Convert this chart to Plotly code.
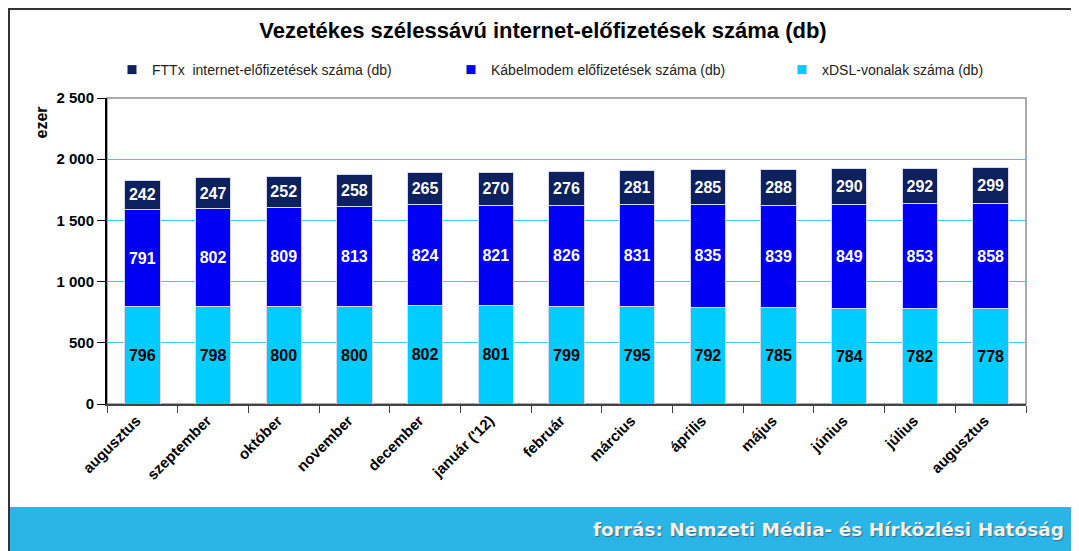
import plotly.graph_objects as go

months = ["augusztus", "szeptember", "október", "november", "december", "január ('12)",
          "február", "március", "április", "május", "június", "július", "augusztus"]
xdsl = [796, 798, 800, 800, 802, 801, 799, 795, 792, 785, 784, 782, 778]
kabel = [791, 802, 809, 813, 824, 821, 826, 831, 835, 839, 849, 853, 858]
fttx = [242, 247, 252, 258, 265, 270, 276, 281, 285, 288, 290, 292, 299]
y_ticks = [0, 500, 1000, 1500, 2000, 2500]

OFF = 8  # default page body margin
PW, PH = 1079, 551           # page size
W, H = PW - OFF, PH - OFF    # figure size
L, R, T, B = 107 - OFF, 1026 - OFF, 98 - OFF, 404 - OFF  # plot area in figure px


def px_x(x):  # page px -> paper
    return (x - OFF - L) / (R - L)


def px_y(y):
    return (B - (y - OFF)) / (B - T)


xs = list(range(len(months)))
FONT = "Liberation Sans, Arial, sans-serif"

fig = go.Figure()
series = [
    ("xDSL-vonalak száma (db)", xdsl, "#00ccff", "black", "legend3"),
    ("Kábelmodem előfizetések száma (db)", kabel, "#0000f5", "white", "legend2"),
    ("FTTx  internet-előfizetések száma (db)", fttx, "#0c215e", "white", "legend"),
]
for name, vals, color, tcolor, leg in series:
    fig.add_trace(go.Bar(
        x=xs, y=vals, name=name, width=0.5, showlegend=False,
        marker=dict(color=color, line=dict(color="#d8d8f0", width=1)),
        text=vals, texttemplate="%{text}", textposition="inside",
        insidetextanchor="middle", textangle=0,
        textfont=dict(family=FONT, size=16, color=tcolor, weight="bold"),
        hoverinfo="skip",
    ))
    fig.add_trace(go.Scatter(
        x=[None], y=[None], mode="markers", name=name, legend=leg,
        marker=dict(symbol="square", size=9, color=color),
    ))

shapes = [
    dict(type="rect", xref="paper", yref="paper", x0=0, x1=1, y0=0, y1=1,
         line=dict(color="#909090", width=1.5), layer="below"),
    dict(type="rect", xref="paper", yref="paper", x0=px_x(8), x1=px_x(PW + 5),
         y0=px_y(507), y1=px_y(PH + 5), fillcolor="#2bb5e7", line=dict(width=0)),
    dict(type="line", xref="paper", yref="paper", x0=px_x(8), x1=px_x(PW + 5),
         y0=px_y(9), y1=px_y(9), line=dict(color="#333333", width=2)),
    dict(type="line", xref="paper", yref="paper", x0=px_x(9), x1=px_x(9),
         y0=px_y(8), y1=px_y(PH + 5), line=dict(color="#333333", width=2)),
]

annotations = [
    dict(text="ezer", xref="paper", yref="paper", x=px_x(30), y=px_y(105),
         showarrow=False, textangle=-90,
         font=dict(family=FONT, size=16, color="black", weight="bold")),
    dict(text="forrás: Nemzeti Média- és Hírközlési Hatóság", xref="paper", yref="paper",
         x=px_x(1066), y=px_y(529), xanchor="right", yanchor="middle", showarrow=False,
         font=dict(family="DejaVu Sans, sans-serif", size=18.5, color="#f2f2f2", weight="bold",
                   shadow="1px 1px 1px #3a6a80")),
]

leg_common = dict(orientation="h", xanchor="left", yanchor="middle", y=px_y(70),
                  font=dict(family=FONT, size=14, color="#222222"),
                  itemclick=False, bgcolor="rgba(0,0,0,0)")

fig.update_layout(
    width=W, height=H,
    margin=dict(l=L, r=W - R, t=T, b=H - B, autoexpand=False),
    barmode="stack",
    paper_bgcolor="white", plot_bgcolor="white",
    separators=", ",
    title=dict(text="Vezetékes szélessávú internet-előfizetések száma (db)",
               x=px_x(543), xref="paper", xanchor="center",
               y=1 - (30 - OFF) / H, yanchor="middle",
               font=dict(family=FONT, size=22, color="black", weight="bold")),
    legend=dict(x=px_x(112), **leg_common),
    legend2=dict(x=px_x(451), **leg_common),
    legend3=dict(x=px_x(782), **leg_common),
    xaxis=dict(range=[-0.5, len(months) - 0.5], tickvals=xs, ticktext=months,
               tickangle=-45, ticks="", showgrid=False, zeroline=False,
               showline=True, linecolor="#444444", linewidth=2, ticklabelshift=-6,
               tickfont=dict(family=FONT, size=15, color="black", weight="bold"),
               minor=dict(tickvals=[i - 0.5 for i in range(len(months) + 1)],
                          ticks="outside", ticklen=7, tickcolor="#444444", tickwidth=1,
                          showgrid=False)),
    yaxis=dict(range=[0, 2500], tickvals=y_ticks, tickformat=",d",
               ticks="outside", ticklen=8, tickcolor="black",
               showline=True, linecolor="black", linewidth=2,
               gridcolor="#33ccff", gridwidth=1, zeroline=False,
               tickfont=dict(family=FONT, size=15, color="black", weight="bold")),
    shapes=shapes, annotations=annotations,
)

fig.write_html("out.html")
